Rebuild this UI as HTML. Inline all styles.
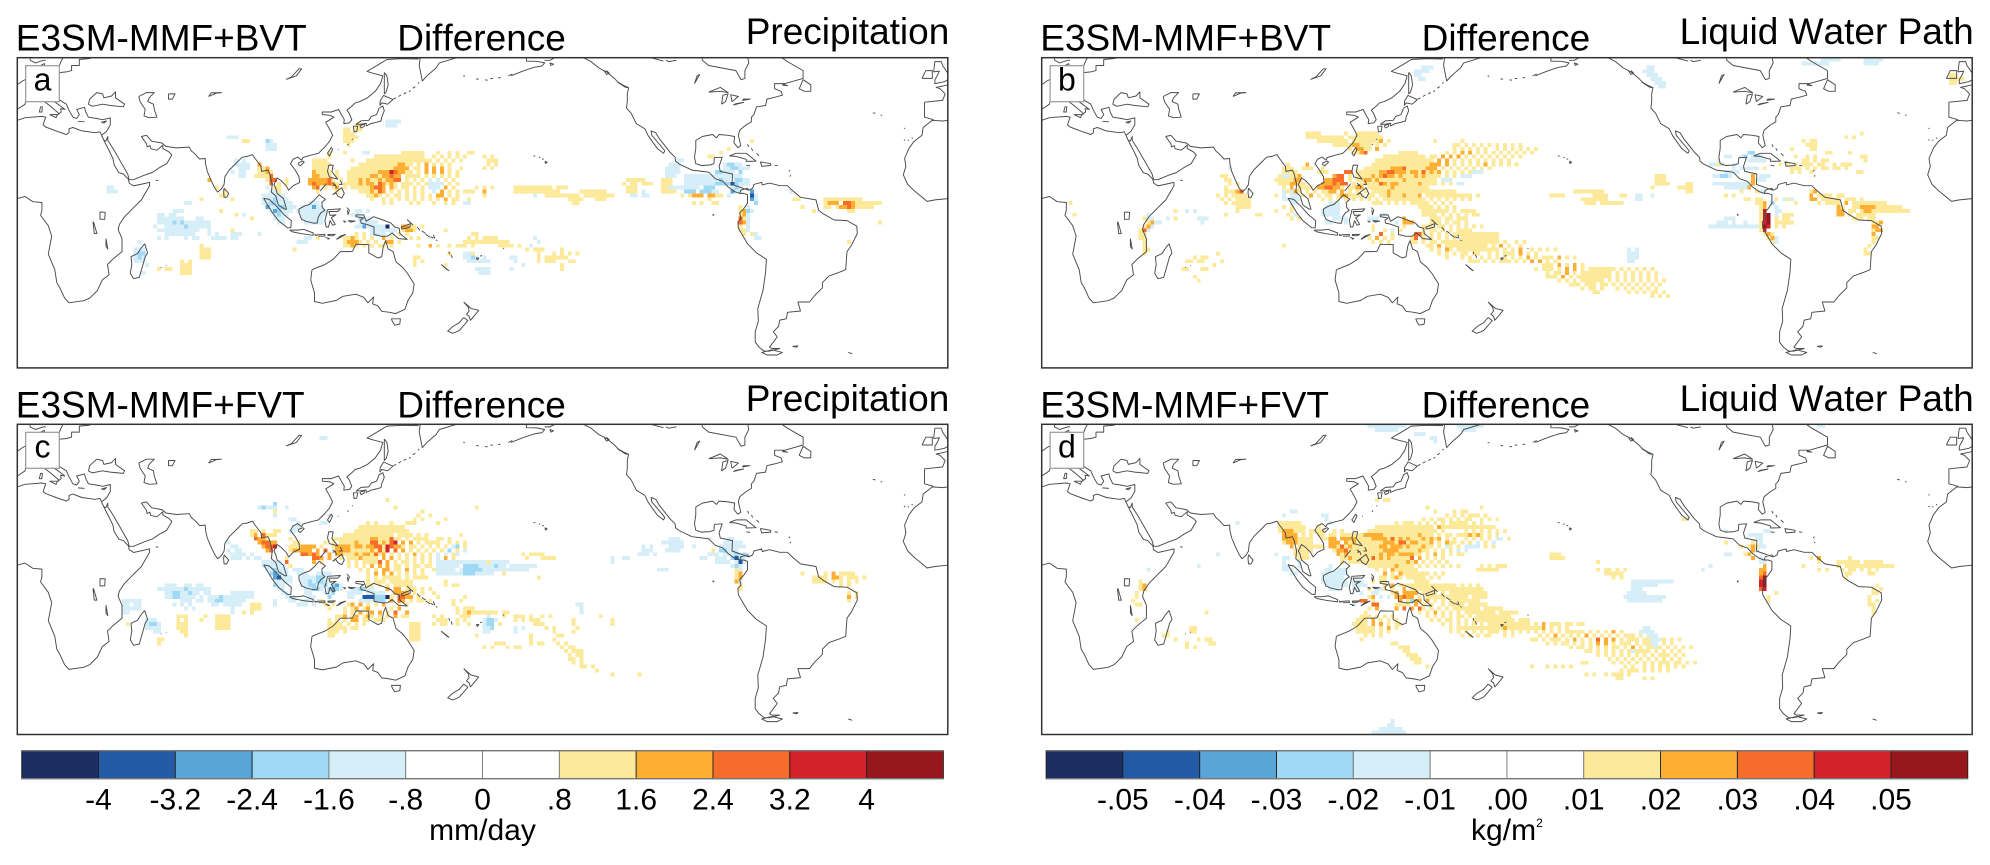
<!DOCTYPE html>
<html><head><meta charset="utf-8"><title>E3SM-MMF difference maps</title>
<style>html,body{margin:0;padding:0;background:#fff}svg{display:block}text{font-family:"Liberation Sans",sans-serif;fill:#000;font-kerning:none}</style>
</head><body>
<svg id="fig" width="1990" height="865" viewBox="0 0 1990 865" xmlns="http://www.w3.org/2000/svg"></svg>
<script>
// Colour-bar values
const precipTicks = ["-4","-3.2","-2.4","-1.6","-.8","0",".8","1.6","2.4","3.2","4"];
const lwpTicks = ["-.05","-.04","-.03","-.02","-.01",".00",".01",".02",".03",".04",".05"];
const palette = {e:"#1c2d63",d:"#235aa6",c:"#59a5d8",b:"#9fd9f5",a:"#d6eef8",1:"#fde99a",2:"#fdae33",3:"#f66d2b",4:"#d2232b",5:"#96171c"};
const barLevels = ["e","d","c","b","a","","","1","2","3","4","5"];

// Coastlines: flat lon,lat lists
const coastlines = [
[0,5.5,3,6.3,6,4.3,9.5,4,9.5,1,9,-1,12,-5,13.3,-9,12,-16,14.5,-22,15.3,-27,16.5,-29,18.3,-33,20,-34.8,25.7,-34,28,-33,31,-30,32.9,-26,35.5,-24,34.9,-20,36.9,-18,40.5,-15,40.5,-10,39,-6.5,39.5,-4.5,41.5,-1.5,45,2,48,5,51.2,10.5,51.2,11.8,49,11.3,45,10.4,43.3,11.5,43,13,41,15,39.3,15.5,37.5,18.5,37,21,35.6,23.9,34,27,32.6,29.9,33.5,28,34.3,27.8,35,29.5,35,28,37,25,39,21.5,41,18,42.7,15,43.3,12.8,45,12.8,49,14.5,52.2,15.6,55,17.5,57.8,19,59.8,22.4,58.6,23.6,56.3,24.9,56.3,26.2,54,24.2,51.6,24.8,51.3,26,50.2,25.5,50,26.7,48,29.5,50,30,52,27.7,56,27,57.5,25.7,61.5,25.1,66.5,25.4,67.3,24,69,22.5,70.5,20.8,72.7,21,72.8,19,73.5,16,74.8,13,76.3,9.8,77.5,8,79,9.3,80,11,80.3,14,82,16.5,85,19.5,87,21.5,89,21.8,91,22.5,92,21,94.3,18,94.5,16,97,16.5,97.7,15,98.6,11,98.3,8,100,6.5,101,3,103.5,1.4,104.2,1.4,103.4,4,103,5.5,100.5,7.5,100,9.5,99.3,11,100.5,13.5,102,12.5,104,10.5,105,8.7,106.7,10.5,109.2,11.7,109,14,107.5,16.5,105.7,19,106.7,20.7,108.5,21.6,110,20.4,110.5,21.4,113.5,22.3,116.5,23,119,25.5,120.7,27.5,122,30,121,32,119.3,35,122.5,37,121,37.7,118,38,118,39,121.5,39,124.3,40,125.4,38,126.5,36,126.3,34.5,128.5,34.8,129.4,36,128.4,38.5,127.5,39.7,129.7,41.5,130.7,42.5,132.5,43,135.5,44.5,138.5,47,140.5,50,141.4,53,137.5,54,135.3,54.7,140,57.5,143,59.3,149,59.6,155,59.5,156,61],
[156,61,155.5,57,156.7,51,158.5,53,162,56,163.3,58,170,60,172,61],
[0,35.8,3,36.8,9.5,37.3,11,37,10,34,11,33.2,15.5,31.5,19,30.3,20,31,20,32.5,21.5,33,25,31.7,30,31,32,31.3,32.6,30],
[0,39,0,40,3,42,3.2,43.3,6,43,9,44.4,10.5,43,12.5,41.5,16,38.5,15.7,38,17,39,16.8,40.3,18.4,40,16,41.8,13.5,43.6,12.4,45,13.7,45.6,15,44.5,19,42,20,39.7,21.5,37,23,36.5,24,38,23,40,26,40.8,26.5,39,27.5,37,30.5,36.5,33,36,36,36.7,36,34,34.5,31.5,32.6,30],
[27.5,42,28,44,30.7,46.5,33,46,33.5,44.5,36.5,45.2,38,46.8,38,44.5,41.5,42,41,41,36,41.5,33,42,29,41.2,27.5,42],
[0,49.5,2,51,4,52,7,53.5,8.5,54,8.2,56.5,10.5,57.7,10.5,55,12,54.2,14,54,19,54.5,21,55,21,57,24,57,24,59.3,28,59.7,30,60.5],
[12,56,13,55.4,16,56.3,17,58.7,18,60.5],[5,60.5,5,59,7,58,10,59,11,59],[9,41,9.7,41,9.5,39,8.5,39,9,41],[12.5,38,15.5,38,15,36.8,12.5,38],[23.5,35.4,26,35.2],[32.5,35,34.5,35.5,33.5,34.7,32.5,35],
[47,45,50,46.5,53,46.5,51,44.5,50.5,43,52.7,42,53,40,54,37,51,36.8,49,37.5,49.5,40,47.5,43,47,45],
[58.5,46,61,46,60,44,58.5,44,58.5,46],[74,45,77,46.3,79,46.5,75,46.4,74,45],[104,51.6,108,53,110,55.7,109,55.7,106,52.5,104,51.6],
[49.3,-12,50.4,-15.5,49.5,-17,47.2,-25,45,-25.5,43.7,-23.4,44.3,-20,44,-17,46.5,-15.8,48,-13.5,49.3,-12],
[80,9.5,81.8,7.5,81,6,80,6,79.8,8,80,9.5],[32,0.3,34,0.2,33.8,-2.5,32,-2.5,32,0.3],[29.3,-3.5,29.8,-8,30.8,-8,29.5,-3.5],[34.3,-10,35,-14,34.3,-13,34.3,-10],[53.5,12.6,54.5,12.5],[55.5,-21,55.8,-21.2],[57.5,-20.3,57.7,-20.5],
[95.3,5.6,97.5,5.2,100.3,2.5,103.5,-1,106,-3,105.8,-5.8,104.5,-5.8,101,-3,98.7,0,95.3,5.6],
[105.3,-6.7,108.5,-6.7,110.8,-6.4,114.5,-7.8,114.4,-8.7,110,-8.1,106.5,-7.4,105.3,-6.7],
[115,-8.3,116,-8.7,115,-8.7],[116,-8.5,119,-8.3,119,-9,116.5,-9],[120,-8.4,123,-8.3,122,-8.9,120,-8.8],[119.2,-9.5,120.8,-10,120,-10.2],[123.5,-10.3,127,-8.4,125,-9,123.5,-10.3],
[109,1.5,111.3,2.7,113,3.2,115,5,116.8,7,119.2,5.2,117.8,4,118,2,119,1,117.5,0,116.5,-1.5,116,-4,114.5,-4,111.7,-3.3,110,-2.5,109,0,109,1.5],
[120,1.2,125,1.5,124,0.5,120.5,0.5,121,-1,123.3,-0.8,121.5,-1.9,123,-4.5,122,-4.8,121,-3,120.4,-5.5,119.5,-5.5,119,-3,119.8,0,120,1.2],
[127.5,2,128.5,1,128,-0.7,127.7,1],[126,-3.2,127,-3.3,126.5,-3.8],[128,-3,130.7,-3.2,129,-3.6,128,-3],
[131,-0.8,134,-0.8,135,-3.3,137.8,-1.5,141,-2.6,144.5,-3.9,146,-5.5,147.8,-6,148,-8,150.8,-10.3,147.5,-10,145,-7.8,143.3,-9,141,-9.1,138,-8.4,138,-5.5,135,-4.4,133,-4,132.8,-2.8,134,-2,131,-1.5,131,-0.8],
[148.5,-5.6,152,-4.2,152,-5.5,149,-6.3,148.5,-5.6],[150.8,-2.6,153,-4.7,152.5,-4.2,150.8,-2.6],[154.7,-5.5,155.8,-6.8],[156.5,-7,158,-8],[158,-8.3,159.8,-9.5],[160,-9.3,161,-9.8],[161,-8.5,161.5,-10],[162,-10.5,162.5,-10.8],
[167,-15,167.2,-16],[167.8,-16.2,168.3,-17.5],[164,-20,167,-22.4,166,-21.8,164,-20],[177.5,-17.5,178.6,-17.5,178,-18.2,177.5,-17.5],[179,-16.8,179.8,-16.5],[188,-13.6,188.3,-14],
[114,-22,113.5,-26,115,-31,115,-34.3,118,-35,123.5,-33.9,126,-32.3,131,-31.5,134,-32.7,135.7,-34.8,137.8,-32.6,137.5,-35.2,139.5,-36,141,-38.1,144,-38.5,146.4,-39,150,-37.3,151.2,-33.8,153,-31,153.5,-27.5,151,-23.5,149,-21,146.5,-19,145.4,-15,143.5,-14,142.5,-10.8,141.6,-13,141,-17,139.5,-17.5,136,-15.5,136,-12.3,131,-12.2,129.7,-14.9,128,-15,125,-15,122.2,-18,119,-20,114,-22],
[144.7,-41,148.2,-41,148,-43,146,-43.5,145.2,-42.2,144.7,-41],
[172.7,-34.5,175.5,-37,178.5,-37.7,177,-39.6,175.3,-41.6,174.8,-40,173.8,-39.3,174.8,-38,174.5,-36.5,172.7,-34.5],
[172.7,-40.5,174.3,-41.7,172.7,-43.6,171,-45.5,170,-46,168.4,-46.6,166.5,-45.8,168.5,-44,171,-42.5,172.7,-40.5],
[121.5,25.3,122,24.5,120.8,22,120,23,121.5,25.3],[108.7,19.3,110.5,20,111,19.6,109.5,18.2,108.7,18.7,108.7,19.3],
[120.5,18.5,122.2,18.4,121.7,15.9,124,13,120.8,13.8,120,16,120.5,18.5],[122,7,125.5,9.7,126.5,7.5,125.5,5.7,124,6.5,123.3,7.7,122,7],[125,12.5,125.7,11,124.5,11],[122,11.5,123,10.7,122,10.5],[123,11,123.5,9.5],[117.2,8.4,119.6,11.3],
[131,34.2,133,35.6,136,35.8,137,37.3,139,38,140,40.5,141.4,41.3,142,39.5,141,37,140.7,35.5,139,35,136.8,34.5,135,33.6,135,34.6,133,34.3,131,34.2],
[130,33.5,131.7,33.5,131.3,31.4,130.3,31.3,130,33.5],[132.5,33.7,134.3,34.3,134.2,33.4,133,32.8,132.5,33.7],[140.3,41.5,140.4,43.3,141.7,45.4,145.3,43.8,143.3,42,141,42.5,140.3,41.5],
[142,54.3,143,53,143.5,49.5,142.7,46.7,142,46,142,50,142,54.3],[145.5,44,146.5,44.5],[147.5,45,148.5,45.6],[149.5,46,150.5,46.5],[151.5,46.8,152.2,47.3],[153,48.2,154,48.8],[155,50,155.5,50.5],[127.7,26.2,128.2,26.7],[129.5,28.3,129.8,28.6],[124,24.4,124.3,24.4],[172.5,52.9,173.2,52.9],[177.5,51.8,178.5,51.7],[181,51.4,182,51.3],[183,51.9,184,52],[186,52.2,187,52.3],[190,53,191.5,53.7],
[199.7,22,200.4,21.9],[201.8,21.5,202.3,21.3],[203,20.9,203.7,20.7],[204.2,20,205,19.5,204.3,19.1,204.2,20],
[191,53,195,54.6,197,55.3,200,56.3,203,56.8,204,58,201,58.6,197,58.7,197,60.5],
[204,59,206,59,208,60,209,60.5],[212,60.5,212,60,219,60,222,58.5,225,56,228,54.5,231,52,233,50,236.5,48.4,236,46,236,43,235.7,40.5,237.5,38.5,239.5,34.5,242.8,32.5,244,30,245.7,27.5,247.7,24.8,250,23,250.5,24,248,27,245.5,30,245.2,31.7,247,31,248.5,28.5,250.5,26,252.5,23.5,254.5,21.5,254.7,20,256,18.9,261,16.5,265,16,267.5,15.7,270,13.2,273,12.2,275,10,277.5,8.2,279.5,7.5,280,8.8,282.5,9.5,283,8.7],
[206,58,207.5,57.5,206.5,57,206,58],[227,55,228,53.5,229,54,228,55],[232,50.7,235,48.7,236,48.4,233,50.2,232,50.7],
[283,8.7,284.5,9.5,285,11,288,11.8,288.2,10.8,291,11.5,295,10.5,298,10.5,300,8.5,303,6,309,5,310,1,312,-0.5,316,-2.8,321,-3,324.8,-5.2,325,-8,322.8,-12.5,321,-15,320.5,-22,318,-23,314,-24.5,311.5,-27,311.5,-29,308.5,-32,306.5,-34.5,302,-34.5,303,-38,298,-38.5,297.5,-41,295,-41.5,294.5,-44,292.5,-46,294,-48,291,-52,292,-52.5,295,-52.5,291,-53.5,289,-53.5,287,-52,285.5,-50,285.5,-46,286.7,-42,286.5,-37,288.5,-30,289.5,-23,289.8,-18,286,-15.5,282.5,-12,279,-6,278.8,-3.5,280,-2.3,279.5,0,281,1.5,282.5,3.7,282.5,7,281,7.5,279.5,7.5],
[292,-53,296,-54,294,-55,290,-55,288,-54,292,-53],[300,-51.7,302,-51.5,301.5,-52,300,-51.7],[321.5,-54,323,-54.5],[269,-0.5,269.5,-0.8,269,-1],
[283,8.7,276.5,11,276.7,15,272,16,271.5,18,272.7,21.5,269.7,21.3,269.5,19,268,18.5,264.7,18.3,262.5,19,262,21.5,262.5,25,262.5,28,265,29.5,269,30.3,270.5,29,271.5,30.3,275,30,277.5,29.5,277.3,27,278.8,25.2,279.9,26,279,30,279.5,32,282,34,284,35.2,284,37,285,38,286,41,289.5,41.5,290,44,293,44.7,296,45.5,295.5,47,293,48,293,50,297,50,304,52,304,55,298,58.5,295,60.5],
[265,60.5,265,59,267.5,57,278,55,280,51.5,281.5,52,281.5,55,283,58,282.5,60.5],[304.5,47,307,47,307,49.5,304,51.5,302.5,48,304.5,47],[296,49.8,298,49.2,296,49.4],
[267.5,46.7,272,47,275,46.5,272,48.5,267.5,46.7],[272.5,42,273,45.5,275,46,274,43,272.5,42],[276.5,43,279,45,276,45.7,276.5,43],[277,41.7,281,42.7,278,42.2,277,41.7],[280.5,43.5,283.5,44,281,44,280.5,43.5],[262,50,264,53.5,263,53,262,50],[251,59,252,58.5,255,59],[245,60,250,58.7],
[275.5,22,278,23,282,23,285.8,20,282,19.9,282,20.7,278,21.8,275.5,22],[287.5,19.7,291.5,19,291.5,18.3,288,18,287.5,19.7],[282,18.4,283.5,18.2],[293,18.4,294.2,18.2],[282.5,26.5,283,25.5],[284,25,284.5,24],[286,23,287,22],[298.5,16,299,16.5],[299,14,299.2,14.6],
[360,5.5,355,5,352,4.4,349.5,6.5,347,8.5,344.5,11,342.8,14.7,343.8,18,343.3,21,345,25,347,27.7,350,30,350.5,33,354,35.8,358,35.5,360,35.8],
[354.5,36,351,37,351,42.8,358,43.5,359,46,357,48,355.5,48.5,358,49,360,49.5],[354.5,54.5,355,58.5,357.5,58.5,358,57,360,54,361,52,358.7,50.7,355,50,355,51.5,356,53.2,356.7,54.8,354.5,54.5],[350,52,354,52,354,55,351.5,55,350,52],[331,38.7,332,38.5],[334,37.8,334.6,37.7],[343,28.3,343.5,28],[344.5,28,345,28.1],[346,29,346.5,28.8],[343,32.7,343.5,32.7]
];

// Heat-map cells: [row (1.5 deg south of 60N), column (1.5 deg east of 0E), level string]
const backA = [
[25,92,"1111111"],[26,90,"111111111"],[27,88,"11111111111"],[28,86,"1111111111111"],[29,85,"11111111111111"],[30,85,"11111111111111"],[31,85,"111111111111"],[32,85,"11111111111"],[33,86,"111111111"],[34,88,"111111"],[35,90,"1111"],
[25,120,"1 1"],[26,120," 111"],[27,121,"1 1"],[28,120,"1 1"],[33,118,"1 1 1"],[34,115,"111  2"],[35,120,"1"]
];
const cellsA = [
[16,95,"aaaa"],[17,87,"11"],[17,95,"aaa"],[18,84,"11 11"],[19,84,"111"],[20,84,"1111"],[20,54,"aaa"],[21,84,"111"],[21,58,"11"],[21,64,"ba"],[22,64,"aaa"],[22,85,"1"],[23,64,"aaa"],
[24,72,"        1   1    aa        111111   1  1 1  11"],[25,72,"        1            11   1111111  1 1 1 1 1"],[26,72,"    1111      1     1 1  1111111111 1 1 1 1"],[27,72,"    11111          1 1 1 12211 1 2 1 1 1"],[28,72,"    1111        1 1 11 1 2222 11 2 2 2 1  1"],[29,72,"    21111 1     11 1 222432211 1 2 2 2 1 1"],[30,72,"    22111 1    1 1 22 22322 1111 1 1 1 1 1"],[31,72,"   2222231 1  1 2 21 2 2233 1 1 1 a a 1 1"],[32,72,"   23222321 1  12 22 32 21 111 1 1aaaa 1 1"],[33,72,"    23 1 12 1   11 2332 21 11 1 1 aaa 2 1"],[34,72,"     1    1      1 2 32 1 1 1 1 1  a 2 1 1 1 1"],[35,72,"                  1 2  1 11 1 1 1 1 22 1 1"],[36,72,"                   1  1 1 1 1 1 1 1 1 2 11  1"],[37,72,"                      1 1    1 1   1  1 1  aa"],
[26,56,"a a"],[27,56,"aaaa"],[27,62,"2"],[28,57,"aaa  1 1"],[28,62,"112"],[29,55,"a aa"],[29,62,"1121"],[30,57,"aa"],[30,61,"11113"],[31,49,"2"],[31,62,"  133"],[31,69,"1"],[32,63,"  3 1 1"],[33,23,"aa"],[33,51,"1"],[33,64,"a 11"],[34,23,"aaa"],[34,53,"1"],[34,65,"aa1"],[35,52,"11"],[35,63,"aaaaaa"],[36,47,"1"],[36,55,"1"],[36,63,"aaabaaa"],[37,63,"aabbaaaa"],[37,73,"  aaa"],[37,43,"aa"],[38,64,"caabbaaa"],[38,73,"aaacaa"],[39,40,"aaa"],[39,52,"1"],[39,65,"acbaaa"],[39,72,"aaaaaaaa"],[39,87,"aa a"],[40,36,"aa aa"],[40,56,"1 a"],[40,66,"abaa"],[40,73,"aaaaaaa"],[40,84,"  aa"],[41,46,"aa"],[41,36,"aaaaaaa"],[41,60,"1"],[41,66,"aaa"],[41,73,"aaaaaa"],[41,88,"baa"],[42,36,"aaaababaaaaaaa"],[42,67,"aa"],[42,74,"aaaaa"],[42,88,"aaaaa"],[43,35,"a  aaaaabaaaaaa"],[43,87,"aacaaaaae"],[43,99,"2211"],[43,104,"1"],[44,36,"aaaaaaaaaaa  a"],[44,55,"1"],[44,91,"aaaaaaa"],[44,99,"1221"],[44,110,"1"],[45,38,"aaaaaaaa   a a"],[45,55,"aaa"],[45,62,"a"],[45,87,"1 1 aaaa a 1 1"],[45,116," 11"],[46,36,"a a"],[46,43,"a aa   aaaa aa"],[46,72,"  aa 1"],[46,84,"1121 1 1  2 1"],[46,101,"1 1"],[46,116,"1 1 1111"],[47,31,"a"],[47,84,"12221 1 1  22 1"],[47,72,"aaa"],[47,115,"111111111"],[48,47,"1"],[48,84,"1121 1 1 11 1"],[48,101,"  1  2 1"],[48,111,"1 111 1"],[49,47,"111"],[49,30,"aaa"],[49,71,"1"],[50,47,"111"],[50,30,"abb"],[50,111,"1   1 1"],[50,115,"aa"],[51,47,"111"],[51,30,"aba"],[51,102,"11"],[51,115,"aaba a"],[52,30,"aaa"],[52,42,"1"],[52,44,"1"],[52,102,"1 1"],[52,116,"aaaaaa"],[53,33,"a"],[53,42,"111"],[53,102,"1"],[53,110,"1"],[54,36,"1 11"],[54,42,"111"],[54,118,"aaaa"],[55,32,"a"],[55,42,"111"],[55,119,"aaa"],
[33,128,"1111111111 111"],[34,128,"111111111111"],[35,135," 1111"],[35,139,"111111"],[35,146,"111111"],[34,145,"1111111"],[35,152,"11"],[36,142,"1111"],[36,149,"111"],[37,143,"11"],[31,157,"11111"],[32,156,"1 11 111"],[33,157,"111"],[34,157,"111 a"],[31,165," 1"],[31,166,"111"],[32,166,"111"],[33,166,"111"],[34,166,"1111"],[35,133,"a"],[35,158,"aa aa"],[47,124,"111"],[48,124,"1111 1  a"],[46,133,"a"],[47,133," a"],[49,131,"1 1 1    1"],[49,134,"1"],[50,134,"1   1 1 1 1"],[51,134,"1 111111"],[52,134,"1 111 "],[52,128,"a"],[53,130,"a"],[53,140,"1"],[54,140,"1"],[54,127,"a"],[51,127,"aa"],[52,142,"11"],
[26,170,"aa"],[27,168,"aaa"],[28,167,"aaaa"],[29,167,"aaaa"],[30,167,"aaa"],[30,172,"aaaaaaaaaaaaaaa"],[27,182,"abbaa"],[28,182,"aabbaaa"],[29,180,"bbaaa b"],[30,180,"a"],[31,172,"aaaaaaaaabaa"],[31,185,"bbaa"],[32,172,"aaaaaaaabbbb"],[32,184,"dbaaa"],[33,168,"aaaaaaaa"],[33,177,"bbb"],[34,172,"bbb"],[34,176,"bbbaa"],[33,184,"aba"],[34,184,"caa"],[35,171,"1 1"],[35,173,"1222 2211"],[35,183,"a"],[35,189,"da"],[34,189,"c"],[36,174,"    1"],[36,189,"ca"],[37,173," 1 1  11"],[37,190,"b"],[38,186,"1 a"],[39,186,"12ba"],[40,186,"12a"],[41,186,"31a"],[42,186,"32a"],[43,186,"1 a"],[44,186,"11a"],[45,187,"1 1a"],[46,188,"  aa"],[21,188," 1"],[23,183,"1"],[24,181,"1"],[25,178,"11"],
[34,199,"a"],[36,208,"1111111111"],[37,208,"1222 3321111111"],[38,208,"11 1223211111"],[36,200,"11"],[38,202,"1"],[39,205,"1"],[39,214,"11"],[42,222,"1"],[47,214,"1"]
];
const backB = [
[24,92,"11111"],[25,88,"11111111111"],[26,86,"11111111111111"],[27,85,"1111111111111111"],[28,83,"111111111111111111"],[29,82,"11111111111111111111"],[30,82,"11111111111111111111"],[31,82,"1111111111111111111"],[32,83,"111111111111111111"],[33,84,"1111111111111111"],[34,85,"11111111111111"],[35,87,"11111111111"],[36,89,"11111111"],[37,95,"11111"],[38,97,"1111"],[39,98,"11111"],[40,98,"111"]
];
const cellsB = [
[19,68,"1111"],[19,78,"1  111111"],[20,68,"1111111111 111111111"],[21,71,"11111111 11111112 1"],[22,75,"1111122111 1 1"],[23,79,"1 2211 2"],[24,80,"1123"],
[21,106,"  1"],[21,101,"1"],[23,115,"  1 1 1 1"],
[22,106,"11 1 1 1 1 1 1 1 1"],[23,106,"1 1 1 1 1  1 1 1 1 1 1"],[24,104,"1 1 2 2 1 1 1 1 1 1 1 1"],[25,98,"1 11 2 2 2 1 1 1 1 1 1 1 1"],[26,93,"111111 1 2 2 1 1 1 1 1 1 1 1"],[27,60,"        2"],[27,90,"111 1 1 1 222 2 1 1 1 1 2 1 1 1 1"],[28,58,"    111  111  1"],[28,85,"1111 2223 11 1222 1 1 1 1 1 1 1"],[29,62,"1111"],[29,70," 111"],[29,78,"33 11 1 12233222 22 3 2 2 1 1 1 1aaa"],[30,61,"111112"],[30,75,"233 1 1 1 2 2322 2 1 2 2 1 1 1 1 aaa"],[31,60,"1111122"],[31,73,"22333 1 1 22 2 11 1 2 1 1 1 1 aaa"],[32,61,"1112211"],[32,72,"2223233 1 11 1 32 22 1 1 2 1 1 1 1 aa"],[33,62,"1 2 1111 2233221 1122 1 1 1 2 1 1 1"],[34,63,"1 21 1 1 1122 2 1 1 1 1 1 2 1 1 111111111111"],[35,64,"1  1 2 1 11 1221111 11 1 2 1 2 1 2 111111111111 1"],[36,71," 1 1 1 1 1 1 1 1 1 1 1 2 1 1 1 1 1 1 1 1"],[36,86,"1   1 1 1 111"],[37,85,"111 1 1 1 1 1 1 1 1 1"],
[34,137,"11111111"],[35,131,"1111"],[35,142,"1111"],[36,139,"1111111"],[37,144,"111111"],[37,140,"111"],[35,149,"11"],[32,158,"1111"],[31,158,"111"],[30,158,"111"],[33,157,"1"],[33,164,"11"],[32,166,"11"],[33,166,"11"],[34,166,"11"],[35,153,"aa"],[35,157,"a"],[36,153,"aa"],[43,172,"aaaaaa"],[42,172,"  aaa"],[42,178,"a"],[43,172,"aaaaaaaaaaaaa"],[41,176,"aaa"],[42,180," a"],
[38,99,"1  1 1"],[38,104,"1 1"],[39,98,"1111 11 1 1111"],[40,100,"11 1 1 1 1"],[40,111,"11"],[41,100,"111 11 111"],[42,100,"111 1 11 1"],[43,98,"111 11 1 1 1 1 1"],[44,98,"1 11 1 1 1111"],[45,98,"1 1 1 1 111111111111"],[46,98,"1 1 1 1 1 1111111111"],[47,95,"11 1 11 111111111111111 1  1 1"],[48,99,"11 2 11111111111 1 2 1  1"],[49,100,"1 1 21 11111111111 1 1 2  1 1 1 1"],[50,102,"1 1 1 11 11  1 1 111 2 1 1"],[51,104,"1"],[51,108,"1 1  1 1 1 1 1 1 2 1 111 2 1 1"],[52,110,"111 1 1 111 1 1 2 2 1 1"],[53,127,"  111 2 1 2 1"],[54,127,"1 111 1 2 2 1 1111111 1 1 1 1 1"],[55,130,"1 11 2 1 11111111 1 1 1 1 1 1"],[56,130,"111 2 1 111111111 1 1 1 1 1 1"],[57,133,"1 1 1 111111 1 1 1 1 1 1 1 1"],[58,136,"111 111 11 1 1 1 1 1 1 1"],[59,138," 1 11 1   1 1 1 1 1 1"],[60,139,"   11"],[60,150," 1 1 1 11 1"],[61,155,"  1 1 1"],
[49,151,"a a"],[50,151,"aaa"],[51,150," aaa"],[52,151,"aa"],
[42,78,"a"],[41,62,"  1 1"],[38,62,"1 1"],[39,60,"1   1"],[40,63,"1 a"],[41,75,"aaaa"],[38,73,"aaaa"],[39,72,"aaaaa"],[40,72,"aaaaa"],[37,74,"aaa"],[36,62,"aaa"],[36,65,"aa"],[35,60,"1 a aa"],[37,64,"aa"],[34,62,"a a"],[42,73,"aa"],[40,84,"   aa"],[41,83," aaa"],[42,91,"a"],[43,84," 1"],[44,85,"1  1 a 1"],[45,85,"  3  1"],[46,84,"1 2 1 1"],[47,85,"1 1 1"],[47,95,"1"],[41,93,"2"],[42,93,"222"],[43,93,"1"],[45,96,"33"],[46,95,"13"],[48,62,"1"],
[37,7,"1"],[40,8,"1"],[39,34,"1"],[40,27,"a"],[41,28,"a"],[41,32,"a 1"],[41,25," 1a"],[42,27,"12aa"],[43,26,"12a"],[44,25,"13a"],[45,25,"11"],[46,25,"11"],[47,26,"1"],[48,26,"1"],[49,26,"11"],[50,26,"1"],
[28,47," a"],[30,46,"11"],[31,47,"11 "],[32,48,"1 1"],[33,47,"1  "],[34,47,"11123"],[35,45,"1 1 1111"],[36,46,"1 1 1111"],[37,47,"1 11111"],[38,50,"1111"],[39,50,"1"],[39,36," a a"],[40,47,"1"],[41,40,"a"],[42,40," a"],[40,55,"11"],[41,41,"aa"],[30,62,"aa"],[27,63,"1"],
[51,39,"1 11"],[52,36," 11 11"],[53,44,"1"],[52,46,"1"],[54,41,"11"],[56,39,"1"],[57,40,"1"],[54,36,"11"],[50,45,"1"],
[2,156,"aa"],[3,155,"aaa"],[4,156,"aaa"],[5,157,"aaa"],[6,158,"aaa"],[7,159,"aa"],[0,201,"aaaaa"],[1,196,"aaaaaaa"],[0,212,"aaaaa"],[1,212,"aaaa"],[2,98,"aaa"],[3,96,"aaaa"],[4,96,"aa"],[5,97,"aa"],
[4,234,"11"],[5,234,"1111"],[6,234,"11"],[20,207,"1 1"],[21,196,"1 11"],[22,196," 111"],[23,193,"1    11"],[24,201," 11"],[25,194,"1  1 1"],[26,196,"11 1 11"],[27,190,"1 1 1 111 11  1 11"],[28,193,"111 1 1 11"],[29,193,"1 1  1"],[27,205," 1 1"],[28,204,"11 1"],[29,210,"11"],[25,211,"11"],[26,212,"1"],[24,208,"1"],[19,210," 1"],[40,191," 11"],
[24,182,"bb"],[25,180,"ab aaa"],[26,182,"aaaaa"],[25,176,"aa"],[26,172,"  a"],[27,172,"aaaa  a"],[28,178,"a aaaaa 1"],[29,176,"aaaa"],[30,172," aabba"],[30,183,"2 aaa"],[31,183,"2aaa"],[32,173,"aaaaaaaaaa2"],[33,176,"aaaaaa2"],[34,184,"1aa"],[35,176,"1 1"],[34,179," 1"],[27,174,"1"],[36,189,"1 a"],[36,181,"11 11"],[37,184,"112 b"],[38,185,"12"],[38,189,"a"],[39,185,"14"],[39,189,"aa"],[40,185,"145 a 11"],[41,185,"145 1 11"],[42,185,"145 11111"],[43,185,"154 1 1"],[44,185,"14"],[45,186,"121"],[46,187,"12a"],[47,188,"1a"],[36,192,"1a"],[37,193," 1"],
[34,198,"12"],[35,198,"2 1111 11"],[36,198,"22 11111 111 1"],[37,200,"1 1111 2 111111111"],[38,205,"21  1122221111111"],[39,205,"22 11 1221111111111"],[40,205,"22 1 11111"],[41,208," 111 11"],[42,214,"112"],[43,214,"22"],[44,214,"122"],[45,214,"2"],[46,214,"11"],[47,214,"1"],[48,213,"1"],[49,212,"1"],[50,212,"11"]
];
const backC = [
[26,90,"111111"],[27,88,"11111111"],[28,84,"1111111111111"],[29,84,"11111111111111"],[30,84,"11111111111111"],[31,84,"111111111111"],[32,84,"11111111111"],[33,84,"1111111111"],[34,86,"1111111"],[35,90,"111"]
];
const cellsC = [
[3,78,"aa"],[21,64,"aaa"],[21,69,"a"],[20,64,"  b"],[22,66,"1"],[21,60,"  ab"],[23,66,"a"],[23,80,"a"],[25,78,"aa"],[27,66,"11"],[27,70,"aa"],[26,71,"aa"],[25,71," a"],[24,70,"aa"],
[19,95,"1 "],[21,97,"1"],[21,118,"1"],[22,104,"1"],[23,103,"1 "],[23,106,"1"],[24,102,"1 1"],[24,110,"1"],[25,90,"1 1   1"],[25,100,"111"],[25,108,"1"],[26,88,"11  1 1 1111"],[27,87,"1111 11 111111 "],[28,60,"1"],[28,86," 1 1"],[28,92,"1 1 1 1111 1 1"],[28,113," 1"],
[27,60,"11 1"],[28,61,"2 3111"],[29,60," 3221 "],[29,70,"1"],[29,81,"111111 11 2211 3 1 1 1111  11 1"],[30,62,"23322"],[30,71,"11"],[30,79,"1 1 1 1 2 1 33 2 34 2 2 1 1111  1 1 1"],[31,63,"2334"],[31,70,"1112222"],[31,78,"1  12222 22 2233 43221 11 1 1 1 1 ab 1"],[32,64,"23"],[32,70,"122222"],[32,77,"2 3  2222 1 1 2 3 4 3 2 1 1 1 1 1 b 1"],[33,73,"33232"],[33,80,"2 22 1 2 22 3 2 1 1 1 2 1 1 a a 1"],[34,76,"332 2"],[34,83,"1 11 2 1 1 2 2 1 1 1 1 1 a 2 1"],[35,68," 3 "],[35,74,"  2 1"],[35,85,"1 1 1 1 3 2 1 11 1 1 1 2 1 1"],[36,70,"1"],[36,85,"1 1 1 2 2 2 11 1 11 11 1 1 1"],[37,88,"1 1 1 22 11 2 1 1  1"],[38,90,"1 2 2 2 1 1 1 1"],[39,92,"  2 1 1 1 1 1"],[40,90,"1 1 1 1  11"],[41,90,"11 1 1 1"],
[32,115,"a "],[33,110,"   a"],
[31,55,"aa"],[32,54,"a aa"],[33,55,"aaaa"],[30,54,"a"],[33,60,"a"],[34,55,"aaa a"],[34,61,"aa"],[35,63,"aaaaa"],[36,63,"aaaaa"],[36,68,"a"],[34,68," 1"],[37,64,"aabaaa"],[37,71,"aaa"],[38,65,"bcbaa"],[38,72,"aaa"],[38,77,"aaaa"],[39,66,"cdaaa"],[39,73,"aaaabba"],[40,66,"aaaaa"],[40,73,"aababbaa"],[41,66,"baa"],[41,73,"aabbaab"],[41,80," bca"],[42,67,"aa"],[42,74,"aabba"],[42,80,"bcba"],[42,86,"aabbaa"],[43,68,"aa"],[43,74,"aa"],[43,79,"aab"],[43,85,"aaaa"],[43,90,"aaaaa"],[44,69,"aaa"],[44,75,"aa"],[44,80,"b"],[44,85,"aa"],[44,89,"dddbbbe"],[45,88,"aaaabbb"],[45,70,"aa"],[45,73,"aaa"],[45,77,"aa"],[46,72,"aaa"],[46,76,"a"],
[43,55,"aaaaaa"],[44,55,"aaaaaa"],[45,55,"aaaa"],[46,55,"aaa"],[47,55,"a"],[46,59," 11"],[47,60,"11"],[48,55,"a  1"],[46,66,"a"],[45,66,"a"],[48,60,"1"],
[35,108,"aaaaaaaaaaaaaaaaaaa"],[36,108,"aaaaaa bbbbaaaabaa aaaaaaa"],[37,108,"aaaaa abbbbbaaaaaaaaaaaa"],[38,108,"aaaaaaabbbbbaaa"],[38,118,"aaa"],[33,130,"1"],[33,132,"1111"],[34,131,"1   1111"],[35,120," 1"],[38,125,"1"],[39,134,"1"],[35,153,"a"],[34,153,"a"],[34,156,"aa"],[33,160,"aa"],[32,161,"aaa"],[33,160,"aaa a"],[31,161,"a a"],
[39,100,"1  1 1"],[39,92,"1 11111"],[40,92,"111"],[40,95,"  11 1"],[40,110,"1"],[39,90,"1"],[40,97,"11111"],[41,96,"  1111"],[41,110,"1 1"],[41,112," 1"],[42,95,"2 22 111 1 1"],[42,103," 1"],[43,97,"2222 1 1"],[43,106," 1"],[44,96,"1 3322 1"],[44,108,"1"],[45,96,"2 32 1 11"],[46,98,"1 1"],[45,105," 1"],[47,96,"1 2"],[48,97,"3  2"],[48,113,"1 1 111"],[47,113,"1 111"],[49,97,"2 11"],[49,114,"111"],[50,113,"1 1"],[46,112,"1"],[51,113,"1"],[44,115,"1"],[45,112,"1 1"],
[45,78,"1"],[46,79,"1 1"],[47,84,"1 12 12"],[47,80,"1"],[46,85,"12 2 1 1 2"],[48,84,"1 1 2 12 2 1"],[49,82,"112 12 121 1 1"],[50,80,"1 1 1 22 11 111"],[51,80,"1111 1 1 1"],[52,80,"11111 11"],[53,80,"111 1"],[54,80,"11"],[48,95,"1"],
[51,101,"111"],[52,101,"111"],[53,101,"111"],[54,101,"111"],[55,101,"111"],[49,107,"1 1"],[50,108,"111"],[51,107,"1 11"],[48,116,"2 111111"],[49,118,"   a"],[50,120,"abba"],[51,120,"abb 1"],[52,120,"aab"],[53,120,"aa"],[54,118,"1"],[51,116,"1 "],[49,125,"1  111 1"],[48,122," 1 11"],[50,128,"1 1 111"],[51,133,"111"],[52,136,"1 1"],[53,138,"1"],[49,135,"1 1"],[52,128,"a a"],[53,128,"a"],[52,130,"a"],[48,143,"  a"],[46,144,"aa"],[47,145,"a"],[50,143,"1"],[51,143,"1"],[53,143,"1"],[54,140,"1"],[52,142,"  1"],[54,132,"1"],[55,132,"1"],[56,123,"1 1"],[56,134,"11"],[56,131," 1"],[57,129,"1"],[57,126,"1 11"],[57,120,"1 1"],[56,124,"1"],
[55,138,"1"],[56,139,"1 1"],[54,139,"1"],[57,140,"1 11"],[58,141,"1 111"],[59,142,"1 11"],[60,142,"11 1"],[61,143,"1 1"],[62,145,"11 1"],[63,148," 1"],[64,152," 1"],[64,160,"1"],[50,153,"1"],[51,153,"1"],[49,150,"1"],
[41,36,"  aaa  aa aa"],[42,36,"aaaaaaabaaaaaa"],[43,38,"aabbaabaa aa"],[44,38,"aabbaaaa a a"],[44,50,"aabaaaaaa"],[45,42,"aaa a"],[45,46,"aa aabbaaaaaa"],[46,40,"a a a"],[46,50,"aa aaa a"],[47,43,"a a"],[45,27,"aaaaa"],[46,27,"aa"],[46,30,"aa"],[47,27,"aaaaa"],[48,27,"aa"],[50,33,"aaa"],[51,33,"abba"],[52,33,"aaaa"],[53,35,"aa"],[46,60," 11"],[47,60,"111"],[48,60,"1"],[49,41,"111"],[50,41,"1 1"],[51,41,"111"],[52,41,"111"],[53,42,"11"],[54,43,"1"],[49,51,"1111"],[50,51,"1111"],[51,51,"1111"],[52,51,"1111"],[50,47,"1"],[49,48,"1"],[51,28,"1"],[55,36,"11"],[56,36,"1"],
[29,168,"aaa"],[30,166,"aaaaaa"],[31,168,"aaaa"],[32,167,"aaaa"],[29,178,"a"],[31,174,"a"],[33,178,"aaa aa"],[34,180,"aaa"],[35,180,"aaaa a"],[29,183,"aa"],[30,182,"aaaaa"],[31,181,"aaaaaaa"],[32,179,"1 bbaaa"],[33,184,"ababa"],[34,184,"bdba"],[35,186,"da"],[36,184,"aba"],[37,185,"1a"],[38,185,"12"],[39,185,"12"],[40,185,"2a"],[41,186,"1"],[42,186,"1"],[34,176,"aa"],[37,165,"aaa"],
[38,200,"  1"],[38,208,"1 2 1111"],[39,205,"1111 221 111 1"],[40,205,"1111 1 1 1 1"],[41,212,"1 1 "],[43,214,"1 1"],[44,214,"2 1"],[45,214,"1"]
];
const backD = [
[26,86,"1111111111111"],[27,84,"1111111111111111"],[28,78,"1111111111111111111111"],[29,78,"111111111111111111111111"],[30,78,"11111111111111111111111"],[31,76,"1111111111111111111111111"],[32,76,"111111111111111111111111"],[33,76,"1111111111111111111111"],[34,78,"111111111111111111"],[35,80,"1111111111111111"],[36,86,"1111111111"],[37,90,"1111111"],[38,92,"111111"],[39,94,"11111"],[40,96,"1111"]
];
const cellsD = [
[19,86,"1 11"],[21,99,"1"],[21,113,"1"],[22,101,"1"],[23,110,"1 1 1"],[23,103," 1"],[24,110,"1"],[24,113,"1 1 1"],[25,107,"1 1 1 1"],[23,106,"1 1 11"],[22,105," 1 11"],[26,95,"1 1"],[24,98,"1 1 11 1 1 11"],[25,91,"1 111 1 1 1 1 11 11"],[26,98,"1 1  1 1 1 1 1 1 1"],
[22,64,"aa"],[23,62,"a"],[23,72,"aa"],[24,73,"a"],[25,74,"a"],
[25,61,"111111"],[26,61,"1111111"],[26,71,"1"],[26,87,"1 11 1111 1 11 2 1 1 1 1 1"],[26,107,"11 1 1 1 1"],[27,61,"1222111 1111"],[27,75,"1 1"],[27,84,"111111 1 11 1 11 1 1"],[27,109,"1 1 1 1 1 1"],[27,96,"1 1 1"],[28,62,"2222 1 1 1"],[28,72,"1 11 1 1 1122222 1 1 1 1 2"],[28,98,"1 1 1 1"],[28,109,"1 1 1 1 1"],[28,105,"1 11 2 2"],
[29,62,"22221111 "],[29,72,"1122 2222 11 2222 3 2 2 1 2 2 2 1 1"],[29,109,"1 1 1 1 aa 1"],[30,62,"12221111"],[30,74,"222 2 2 1 11 1222 33 22 1 2 1 2 1 1"],[30,103,"  11 1 1 a 1 a"],[31,64,"2 1111111"],[31,74,"22 3 2 1 1 1 22 222 2 1 2 1 1 a"],[31,105,"1 1 aaaa 1 1"],[32,65,"11111"],[32,75,"1223 1 1 1 1 2222 1 1 2 1 1 1 1 a a"],[33,65,"1111"],[33,75," 2 2 1 1 1 12 22 2222 1 1 2 1 1 11"],[34,66,"111"],[34,74,"   1 2 1 1 3 2 2 1 1 3 2 1 1 1"],[35,74,"   1 11 1 1 1 1 1 1 2 2 1 1 1 1"],[36,84,"11 1 1 2 1 1 1 1 1 1 1 1"],[36,113,"1 1 111"],[37,86,"1 1 2 1 1 1"],[37,112,"111111"],[38,88,"2 1 2 1 1 11 1 1"],[39,87,"11 1 1 1 1 1 1 1"],
[33,131,"111"],[34,131,"1111"],[35,141,"  1"],[37,143,"1"],[37,145,"11 1 1"],[38,145,"11111"],[39,145,"  1 1"],
[40,85,"1 1"],[39,91,"2"],[41,86,"  1 2 111111111111111 1 1 1"],[41,100,"111111"],[42,88,"1 1  2 1111111111111111111"],[42,113,"1"],[43,90,"12 2222 1111 1 1111111111"],[44,91,"22322 1 11111111111 1111"],[45,92,"2 1122 2 1 1 11111111"],[46,91,"1111 2 1 1  1 1111 11111"],[47,91,"2 3 2 11 1 1 1 1111111 11111"],[48,97,"1 1 2 1 1 1 11111111 11111"],[49,99,"1 1 1 1 11 1 111111111"],[50,100,"1 1 11 1 1 11111111111 111"],[51,103,"1 1 1 1 1 1 11111111111 1 2 111 11 11"],[52,103,"  1 11111111111 2 11111 1 2 1 1 1"],[53,105,"1 1 1 1 1 111 1 1 1 1 1"],[54,108,"1 1 1 11"],[54,118," 1 1 "],[50,112,"11 1 1"],[52,118,"1 1 1 1 1 1"],[53,123,"1 1 1 1 1 1 11111 1 1 1 1"],[53,145,"1 2 1"],[54,126,"  1 1 2 1 1 1 2 1 1 1 1 111 1 1"],[55,126,"11 1 111 1 2 1 1 3 2 2 1 111 11 1 1 1 1"],[56,130,"1 1 11 1 1 1 2 2 1 111 1 11 1 1 1"],[57,136,"1 11 1 1 1 11 1 2 1 1111 1 1 1 1"],[58,138,"  11 1 1 1 1 111111 1 1 1 1"],[59,143,"1 1 1 1 1 1 1 1 1 1 1 1"],[60,146,"1 1 1 1 1 1 1 1 1 1"],[61,139,"11"],[61,147,"1 1 1 1 1 1 111 11 1 1"],[62,126,"1"],[62,130,"1 1 1 1"],[62,150,"1 1  1 1 1 1 1 1"],[63,147,"  1 111 1 1 1 1"],[64,140,"1 1"],[64,145,"1 111 1"],[65,148,"11"],[65,155,"1 1"],[58,152,"a"],[53,154,"a"],[52,155,"aa"],[53,155,"aaa"],[54,156,"aaa"],[55,157,"aaa"],[56,157,"aa"],[57,158,"a"],[59,159," 1"],
[40,87,"11"],[41,82," 1"],[42,84,"1"],[43,84,"  1"],[44,83," 12"],[45,82,"33 1"],[46,78,"  a"],[46,85,"33"],[47,84,"1 2"],[47,97,"3"],[48,83,"1"],[49,81," 111 1 1 1"],[50,81,"111 2 1 1 1"],[51,80,"1111 2 2 1 11"],[52,81,"11111 1 2 1"],[53,81,"11111 1 1"],[54,83,"1 1 1"],[55,81," 1"],[56,90,"11"],[57,92,"111"],[58,93,"11"],[59,94,"111"],[60,95,"111"],[61,96,"11"],[62,98," 1"],
[35,62,"a"],[36,62,"aa"],[37,62,"aaa"],[36,74,"a"],[37,73,"aa aaa"],[38,72,"aaaaaaa"],[39,72,"aaaaaa"],[40,72,"aaaaaaa"],[41,73,"aaaaaa"],[42,74,"aaa"],[39,79,"a"],[33,60,"a"],[34,62,"aa"],[35,66,"a"],[36,66,"a"],[38,64,"aa"],[40,80,"aaa"],[41,80,"aaa"],[41,82,"aa"],[42,80,"aa"],[42,86,"aa"],[43,85,"aa"],[45,95,"b"],[43,82,"a"],[44,89,"a"],[44,87,"a"],
[40,25,"1"],[41,25,"12"],[42,25,"12"],[43,24,"1"],[44,24,"1"],[45,23,"1"],[37,27,"a"],[46,24,"11"],[50,24,"1"],[53,32,"1"],[54,31,"11"],[55,34,"1"],[52,38,"11"],[53,38,"1"],[53,39,"1"],[56,37,"1"],[57,37,"1 1"],[56,43,"11"],[55,40,"1 11"],[48,42,"1"],
[25,50,"a"],[33,45,"a"],[36,40,"a"],
[24,165,"11"],[30,176,"1"],[31,180,"1 1 1"],[37,170,"a"],[36,172,"a"],[27,176,"a"],[27,186,"aa"],[28,182,"aaaa"],[29,184,"aa"],[30,183,"1 a"],[31,183,"2 aa"],[32,183,"2a"],[33,176,"aa   1"],[33,182,"2"],[34,183,"2 a"],[35,185,"aa"],[36,186,"2"],[37,185,"22"],[38,185,"23"],[39,185,"35"],[40,185,"45"],[41,185,"45"],[42,185,"34"],[44,187,"1"],[45,187,"1"],[43,189,"1"],
[40,152,"aaaaaaaaaaa"],[41,152,"aaaaaaa"],[42,152,"aaa"],[43,151,"aaaaa"],[44,150,"aaaaaaaaaaa"],[45,151,"aaaaaaaaa"],[37,200,"1 1"],[36,196,"1"],[36,205,"1 1 1"],[35,200,"1"],[34,198,"1 2"],[35,205,"111111 11111"],[36,208,"111111111111"],[37,206,"1 11 1 1 1"],[34,205,"   1"],[38,207,"11"],[39,207,"1"],[38,213,"11"],[41,213,"  1"],[42,214,"1 1"],[43,214,"11"],[44,213,"1"],[45,213,"1 1"],[46,213,"11"],[47,214,"1"],[48,214,"1"],
[0,84,"aaaaaaaaaa"],[1,86,"aaaaaa"],[2,96,"aaa"],[0,107,"aaaaaaa"],[1,108,"aaaa"],[3,100,"aa"],[4,101,"a"],[7,156,"a"],[0,200,"aa"],
[76,90,"a"],[77,89,"aa"],[78,87,"aaaaaa"],[79,85,"aaaaaaaaa"],[80,84,"aaaaaaaaaa"]
];

// Panels
const panelDefs = [
 {id:"a",x:17.3,y:57.7,left:"E3SM-MMF+BVT",right:"Precipitation",cells:backA.concat(cellsA)},
 {id:"b",x:1041.7,y:57.7,left:"E3SM-MMF+BVT",right:"Liquid Water Path",cells:backB.concat(cellsB)},
 {id:"c",x:17.3,y:424.3,left:"E3SM-MMF+FVT",right:"Precipitation",cells:backC.concat(cellsC)},
 {id:"d",x:1041.7,y:424.3,left:"E3SM-MMF+FVT",right:"Liquid Water Path",cells:backD.concat(cellsD)}
];
const panelW = 930.5, panelH = 310.2, cellDeg = 1.5;

const NS = "http://www.w3.org/2000/svg";
const fig = document.getElementById("fig");
function mk(tag, attrs, parent){
  const el = document.createElementNS(NS, tag);
  for (const k in attrs) el.setAttribute(k, attrs[k]);
  (parent || fig).appendChild(el);
  return el;
}
function lonToX(p, lon){ return p.x + lon * panelW / 360; }
function latToY(p, lat){ return p.y + (60 - lat) * panelH / 120; }

function drawPanel(p){
  const g = mk("g", {});
  
  
  const clip = mk("clipPath", {id:"clip-" + p.id}, g);
  mk("rect", {x:p.x, y:p.y, width:panelW, height:panelH}, clip);
  const plot = mk("g", {"clip-path":"url(#clip-" + p.id + ")"}, g);
  
  
  p.cells.forEach(function(run){
    const row = run[0], col = run[1], levels = run[2];
    for (let k = 0; k < levels.length; k++){
      const lv = levels[k];
      if (lv === " ") continue;
      const lon = (col + k) * cellDeg, lat = 60 - row * cellDeg;
      const cell = mk("rect", {x:lonToX(p, lon).toFixed(2), y:latToY(p, lat).toFixed(2),
        width:(lonToX(p, lon + cellDeg) - lonToX(p, lon)).toFixed(2),
        height:(latToY(p, lat - cellDeg) - latToY(p, lat)).toFixed(2),
        fill:palette[lv], "shape-rendering":"crispEdges"}, plot);
      
      
    }
  });
  let d = "";
  coastlines.forEach(function(line){
    for (let i = 0; i < line.length; i += 2){
      d += (i ? "L" : "M") + lonToX(p, line[i]).toFixed(1) + " " + latToY(p, line[i + 1]).toFixed(1);
    }
  });
  const coast = mk("path", {d:d, fill:"none", stroke:"#4a4a4a", "stroke-width":"0.95", "stroke-linejoin":"round"}, plot);
  
  

  const frame = mk("rect", {x:p.x, y:p.y, width:panelW, height:panelH, fill:"none", stroke:"#333", "stroke-width":"1.5"}, g);
  
  

  const box = mk("rect", {x:p.x + 8.4, y:p.y + 8, width:33.6, height:36, fill:"#fff", stroke:"#999", "stroke-width":"1.2"}, g);
  
  
  const lab = mk("text", {x:p.x + 25.2, y:p.y + 33, "text-anchor":"middle", "font-size":"32"}, g);
  lab.textContent = p.id;
  
  

  const tl = mk("text", {x:p.x - 1.5, y:p.y - 7, "font-size":"37"}, g);
  tl.textContent = p.left;
  
  
  const tc = mk("text", {x:p.x + panelW / 2 - 1, y:p.y - 7, "text-anchor":"middle", "font-size":"37"}, g);
  tc.textContent = "Difference";
  
  
  const tr = mk("text", {x:p.x + panelW + 1.5, y:p.y - 13.5, "text-anchor":"end", "font-size":"37"}, g);
  tr.textContent = p.right;
  
  
}
panelDefs.forEach(drawPanel);

function drawBar(x0, ticks, unit, sup, name){
  const g = mk("g", {});
  
  
  const w = 921.7 / barLevels.length, y0 = 750.7, h = 28;
  barLevels.forEach(function(lv, i){
    const c = mk("rect", {x:x0 + i * w, y:y0, width:w, height:h, fill:lv ? palette[lv] : "#fff", stroke:(i > 3 && i < 8) ? "#777" : "#222", "stroke-width":"0.9"}, g);
    
    
  });
  const top = mk("path", {d:"M" + x0 + " " + y0 + "h921.7M" + x0 + " " + (y0 + h) + "h921.7", stroke:"#777", "stroke-width":"1.4", fill:"none"}, g);
  
  
  ticks.forEach(function(t, i){
    const tx = mk("text", {x:x0 + (i + 1) * w, y:809.3, "text-anchor":"middle", "font-size":"30"}, g);
    tx.textContent = t;
    
    
  });
  const u = mk("text", {x:x0 + 460.8, y:840, "text-anchor":"middle", "font-size":"30"}, g);
  u.textContent = unit;
  
  
  if (sup){
    const s = mk("tspan", {dy:"-13", "font-size":"12"}, u);
    s.textContent = sup;
  }
}
drawBar(21.7, precipTicks, "mm/day", "", "precip-colorbar");
drawBar(1046.1, lwpTicks, "kg/m", "2", "lwp-colorbar");
</script>
</body></html>
